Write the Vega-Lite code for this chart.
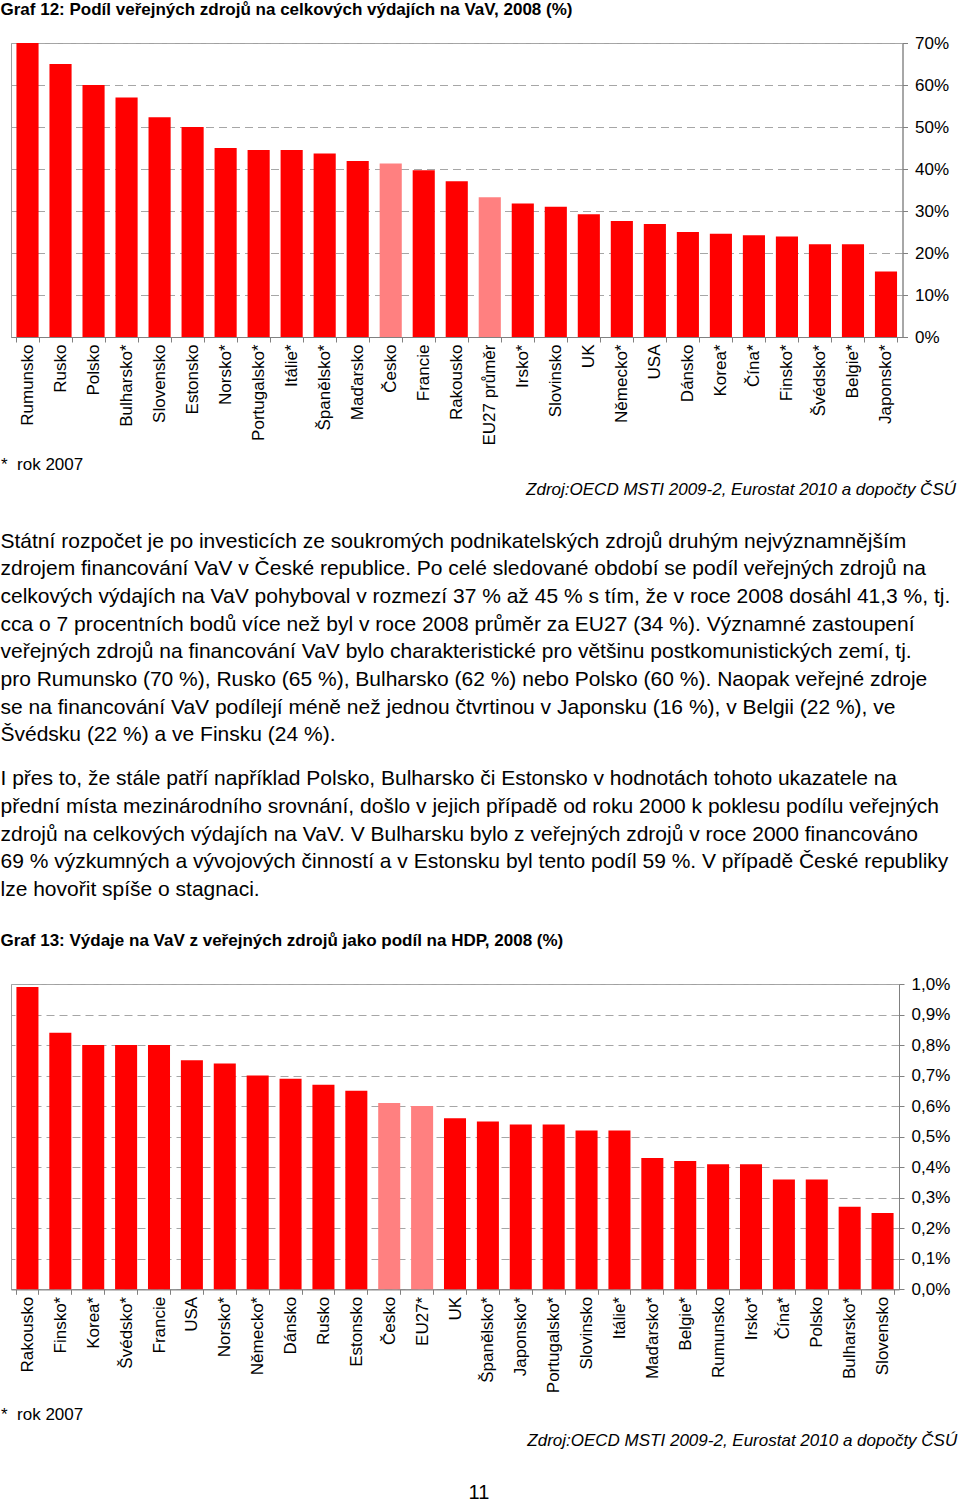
{
  "$schema": "https://vega.github.io/schema/vega-lite/v6.json",
  "padding": {"top": 1, "left": 0, "right": 0, "bottom": 0},
  "background": "white",
  "config": {
    "font": "Liberation Sans",
    "view": {"stroke": "#a0a0a0", "strokeWidth": 1},
    "axis": {"labelColor": "#000000", "domainColor": "#808080", "tickColor": "#808080"}
  },
  "datasets": {
    "graf12": [
      {"zeme": "Rumunsko", "podil": 70},
      {"zeme": "Rusko", "podil": 65},
      {"zeme": "Polsko", "podil": 60},
      {"zeme": "Bulharsko*", "podil": 57},
      {"zeme": "Slovensko", "podil": 52.3},
      {"zeme": "Estonsko", "podil": 50},
      {"zeme": "Norsko*", "podil": 45},
      {"zeme": "Portugalsko*", "podil": 44.5},
      {"zeme": "Itálie*", "podil": 44.5},
      {"zeme": "Španělsko*", "podil": 43.7},
      {"zeme": "Maďarsko", "podil": 41.9},
      {"zeme": "Česko", "podil": 41.3},
      {"zeme": "Francie", "podil": 39.7},
      {"zeme": "Rakousko", "podil": 37.1},
      {"zeme": "EU27 průměr", "podil": 33.3},
      {"zeme": "Irsko*", "podil": 31.8},
      {"zeme": "Slovinsko", "podil": 31.0},
      {"zeme": "UK", "podil": 29.2},
      {"zeme": "Německo*", "podil": 27.6},
      {"zeme": "USA", "podil": 26.9},
      {"zeme": "Dánsko", "podil": 25.0},
      {"zeme": "Korea*", "podil": 24.6},
      {"zeme": "Čína*", "podil": 24.2},
      {"zeme": "Finsko*", "podil": 23.9},
      {"zeme": "Švédsko*", "podil": 22.1},
      {"zeme": "Belgie*", "podil": 22.1},
      {"zeme": "Japonsko*", "podil": 15.6}
    ],
    "graf13": [
      {"zeme": "Rakousko", "podil": 0.99},
      {"zeme": "Finsko*", "podil": 0.84},
      {"zeme": "Korea*", "podil": 0.80},
      {"zeme": "Švédsko*", "podil": 0.80},
      {"zeme": "Francie", "podil": 0.80},
      {"zeme": "USA", "podil": 0.75},
      {"zeme": "Norsko*", "podil": 0.74},
      {"zeme": "Německo*", "podil": 0.70},
      {"zeme": "Dánsko", "podil": 0.69},
      {"zeme": "Rusko", "podil": 0.67},
      {"zeme": "Estonsko", "podil": 0.65},
      {"zeme": "Česko", "podil": 0.61},
      {"zeme": "EU27*", "podil": 0.60},
      {"zeme": "UK", "podil": 0.56},
      {"zeme": "Španělsko*", "podil": 0.55},
      {"zeme": "Japonsko*", "podil": 0.54},
      {"zeme": "Portugalsko*", "podil": 0.54},
      {"zeme": "Slovinsko", "podil": 0.52},
      {"zeme": "Itálie*", "podil": 0.52},
      {"zeme": "Maďarsko*", "podil": 0.43},
      {"zeme": "Belgie*", "podil": 0.42},
      {"zeme": "Rumunsko", "podil": 0.41},
      {"zeme": "Irsko*", "podil": 0.41},
      {"zeme": "Čína*", "podil": 0.36},
      {"zeme": "Polsko", "podil": 0.36},
      {"zeme": "Bulharsko*", "podil": 0.27},
      {"zeme": "Slovensko", "podil": 0.25}
    ]
  },
  "title": {"text": "11", "orient": "bottom", "anchor": "middle", "fontSize": 20, "fontWeight": "normal", "color": "#000000", "offset": 34},
  "spacing": 31,
  "vconcat": [
    {
      "title": {"text": "Zdroj:OECD MSTI 2009-2, Eurostat 2010 a dopočty ČSÚ", "orient": "bottom", "anchor": "end", "fontSize": 17, "fontStyle": "italic", "fontWeight": "normal", "color": "#000000", "offset": 9, "dx": 7},
      "vconcat": [
        {
          "title": {"text": "Graf 12: Podíl veřejných zdrojů na celkových výdajích na VaV, 2008 (%)", "anchor": "start", "fontSize": 17, "fontWeight": "bold", "color": "#000000", "offset": 14.5},
          "vconcat": [
            {
              "width": 891.5,
              "height": 294,
              "data": {"name": "graf12"},
              "title": {"text": "*\u00a0\u00a0rok 2007", "orient": "bottom", "anchor": "start", "fontSize": 17, "fontWeight": "normal", "color": "#000000", "offset": 11.5},
              "layer": [
                {
                  "mark": {"type": "bar"},
                  "encoding": {
                    "x": {"field": "zeme", "type": "nominal", "sort": null,
                      "scale": {"paddingInner": 0.33, "paddingOuter": 0.165},
                      "axis": {"title": null, "labelAngle": -90, "labelFontSize": 17, "labelPadding": 2, "tickBand": "extent", "tickSize": 5, "grid": false}},
                    "y": {"field": "podil", "type": "quantitative", "scale": {"domain": [0, 70]},
                      "axis": {"orient": "right", "title": null, "values": [0, 10, 20, 30, 40, 50, 60, 70], "labelExpr": "datum.value + '%'", "labelFontSize": 17, "labelPadding": 7, "tickSize": 5, "labelFlush": false, "grid": true, "gridDash": [8, 5], "gridColor": "#a6a6a6"}},
                    "color": {"condition": {"test": "datum.zeme === 'Česko' || datum.zeme === 'EU27 průměr'", "value": "#ff8080"}, "value": "#ff0000"}
                  }
                },
                {
                  "mark": {"type": "rule", "opacity": 0},
                  "encoding": {
                    "y": {"datum": 0, "type": "quantitative",
                      "axis": {"orient": "left", "title": null, "labels": false, "ticks": false, "domain": false, "grid": false, "minExtent": 10}}
                  }
                }
              ],
              "resolve": {"axis": {"y": "independent"}}
            }
          ]
        }
      ]
    },
    {
      "title": {
        "text": [
          "Státní rozpočet je po investicích ze soukromých podnikatelských zdrojů druhým nejvýznamnějším",
          "zdrojem financování VaV v České republice. Po celé sledované období se podíl veřejných zdrojů na",
          "celkových výdajích na VaV pohyboval v rozmezí 37 % až 45 % s tím, že v roce 2008 dosáhl 41,3 %, tj.",
          "cca o 7 procentních bodů více než byl v roce 2008 průměr za EU27 (34 %). Významné zastoupení",
          "veřejných zdrojů na financování VaV bylo charakteristické pro většinu postkomunistických zemí, tj.",
          "pro Rumunsko (70 %), Rusko (65 %), Bulharsko (62 %) nebo Polsko (60 %). Naopak veřejné zdroje",
          "se na financování VaV podílejí méně než jednou čtvrtinou v Japonsku (16 %), v Belgii (22 %), ve",
          "Švédsku (22 %) a ve Finsku (24 %)."
        ],
        "subtitle": [
          "I přes to, že stále patří například Polsko, Bulharsko či Estonsko v hodnotách tohoto ukazatele na",
          "přední místa mezinárodního srovnání, došlo v jejich případě od roku 2000 k poklesu podílu veřejných",
          "zdrojů na celkových výdajích na VaV. V Bulharsku bylo z veřejných zdrojů v roce 2000 financováno",
          "69 % výzkumných a vývojových činností a v Estonsku byl tento podíl 59 %. V případě České republiky",
          "lze hovořit spíše o stagnaci."
        ],
        "anchor": "start",
        "fontSize": 21, "fontWeight": "normal", "color": "#000000", "lineHeight": 27.7,
        "subtitleFontSize": 21, "subtitleColor": "#000000", "subtitleLineHeight": 27.7, "subtitlePadding": 23,
        "offset": 31.3
      },
      "vconcat": [
        {
          "title": {"text": "Zdroj:OECD MSTI 2009-2, Eurostat 2010 a dopočty ČSÚ", "orient": "bottom", "anchor": "end", "fontSize": 17, "fontStyle": "italic", "fontWeight": "normal", "color": "#000000", "offset": 9, "dx": 7},
          "vconcat": [
            {
              "title": {"text": "Graf 13: Výdaje na VaV z veřejných zdrojů jako podíl na HDP, 2008 (%)", "anchor": "start", "fontSize": 17, "fontWeight": "bold", "color": "#000000", "offset": 25},
              "vconcat": [
                {
                  "width": 888,
                  "height": 305.3,
                  "data": {"name": "graf13"},
                  "title": {"text": "*\u00a0\u00a0rok 2007", "orient": "bottom", "anchor": "start", "fontSize": 17, "fontWeight": "normal", "color": "#000000", "offset": 14.5},
                  "layer": [
                    {
                      "mark": {"type": "bar"},
                      "encoding": {
                        "x": {"field": "zeme", "type": "nominal", "sort": null,
                          "scale": {"paddingInner": 0.33, "paddingOuter": 0.165},
                          "axis": {"title": null, "labelAngle": -90, "labelFontSize": 17, "labelPadding": 2, "tickBand": "extent", "tickSize": 5, "grid": false}},
                        "y": {"field": "podil", "type": "quantitative", "scale": {"domain": [0, 1]},
                          "axis": {"orient": "right", "title": null, "values": [0, 0.1, 0.2, 0.3, 0.4, 0.5, 0.6, 0.7, 0.8, 0.9, 1.0], "labelExpr": "replace(format(datum.value, '.1f'), '.', ',') + '%'", "labelFontSize": 17, "labelPadding": 7, "tickSize": 5, "labelFlush": false, "grid": true, "gridDash": [8, 5], "gridColor": "#a6a6a6"}},
                        "color": {"condition": {"test": "datum.zeme === 'Česko' || datum.zeme === 'EU27*'", "value": "#ff8080"}, "value": "#ff0000"}
                      }
                    },
                    {
                      "mark": {"type": "rule", "opacity": 0},
                      "encoding": {
                        "y": {"datum": 0, "type": "quantitative",
                          "axis": {"orient": "left", "title": null, "labels": false, "ticks": false, "domain": false, "grid": false, "minExtent": 10}}
                      }
                    }
                  ],
                  "resolve": {"axis": {"y": "independent"}}
                }
              ]
            }
          ]
        }
      ]
    }
  ]
}
